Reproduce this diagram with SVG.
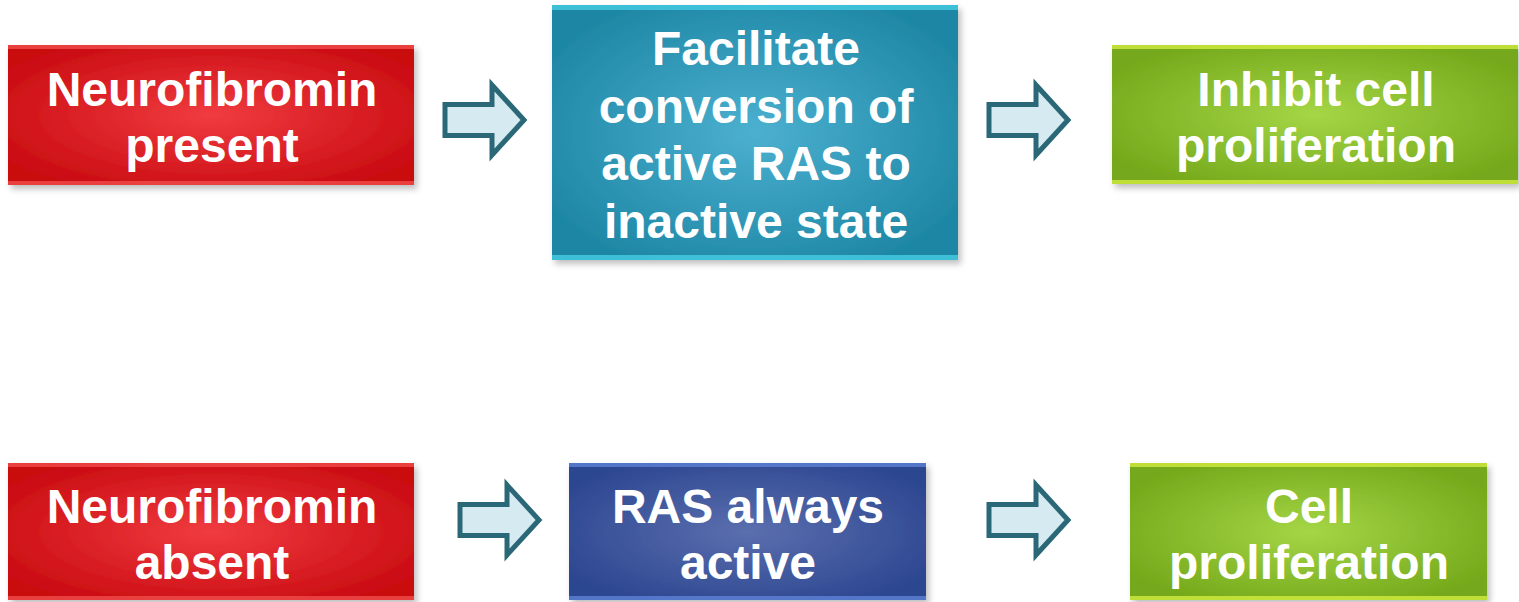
<svg xmlns="http://www.w3.org/2000/svg" width="1519" height="602" viewBox="0 0 1519 602">
<style>
.t{font-family:"Liberation Sans",Arial,sans-serif;font-weight:bold;font-size:48px;fill:#ffffff;text-anchor:middle}
.arr{fill:#d6eaf1;stroke:#2a6878;stroke-width:5;stroke-linejoin:miter}
.hl{opacity:0.75}
</style>
<defs>
<filter id="sh" x="-5%" y="-5%" width="115%" height="120%">
<feDropShadow dx="3" dy="4" stdDeviation="3" flood-color="#000" flood-opacity="0.25"/>
</filter>
<radialGradient id="gRed" cx="0.5" cy="0.5" r="0.6">
<stop offset="0" stop-color="#f03c40"/><stop offset="1" stop-color="#c90b11"/>
</radialGradient>
<radialGradient id="gTeal" cx="0.5" cy="0.5" r="0.6">
<stop offset="0" stop-color="#4cb0d0"/><stop offset="1" stop-color="#1d86a4"/>
</radialGradient>
<radialGradient id="gGreen" cx="0.5" cy="0.5" r="0.6">
<stop offset="0" stop-color="#a4d646"/><stop offset="1" stop-color="#74a81a"/>
</radialGradient>
<radialGradient id="gBlue" cx="0.5" cy="0.5" r="0.6">
<stop offset="0" stop-color="#5b6fae"/><stop offset="1" stop-color="#2c4690"/>
</radialGradient>
<path id="arrow" d="M0,-15.5 H47 V-35 L79,0 L47,35 V15.5 H0 Z"/>
</defs>

<g id="connectors">
<use href="#arrow" class="arr" transform="translate(445,120)"/>
<use href="#arrow" class="arr" transform="translate(989,120)"/>
<use href="#arrow" class="arr" transform="translate(460,520)"/>
<use href="#arrow" class="arr" transform="translate(989,520)"/>
</g>

<g id="node-neurofibromin-present">
<rect x="8" y="45" width="406" height="140" fill="url(#gRed)" filter="url(#sh)"/>
<rect x="8" y="45" width="406" height="4" fill="#f35050" class="hl"/>
<rect x="8" y="181" width="406" height="4" fill="#f35050" class="hl"/>
<text class="t" x="212" y="106">Neurofibromin</text>
<text class="t" x="212" y="162">present</text>
</g>

<g id="node-facilitate">
<rect x="552" y="5" width="406" height="255" fill="url(#gTeal)" filter="url(#sh)"/>
<rect x="552" y="5" width="406" height="5" fill="#48d2ea" class="hl"/>
<rect x="552" y="255" width="406" height="5" fill="#48d2ea" class="hl"/>
<text class="t" x="756" y="65">Facilitate</text>
<text class="t" x="756" y="123">conversion of</text>
<text class="t" x="756" y="180">active RAS to</text>
<text class="t" x="756" y="238">inactive state</text>
</g>

<g id="node-inhibit">
<rect x="1112" y="45" width="406" height="139" fill="url(#gGreen)" filter="url(#sh)"/>
<rect x="1112" y="45" width="406" height="4" fill="#d8f040" class="hl"/>
<rect x="1112" y="180" width="406" height="4" fill="#d8f040" class="hl"/>
<text class="t" x="1316" y="106">Inhibit cell</text>
<text class="t" x="1316" y="162">proliferation</text>
</g>

<g id="node-neurofibromin-absent">
<rect x="8" y="463" width="406" height="137" fill="url(#gRed)" filter="url(#sh)"/>
<rect x="8" y="463" width="406" height="4" fill="#f35050" class="hl"/>
<rect x="8" y="596" width="406" height="4" fill="#f35050" class="hl"/>
<text class="t" x="212" y="523">Neurofibromin</text>
<text class="t" x="212" y="579">absent</text>
</g>

<g id="node-ras-active">
<rect x="569" y="463" width="357" height="137" fill="url(#gBlue)" filter="url(#sh)"/>
<rect x="569" y="463" width="357" height="4" fill="#6286dc" class="hl"/>
<rect x="569" y="596" width="357" height="4" fill="#6286dc" class="hl"/>
<text class="t" x="748" y="523">RAS always</text>
<text class="t" x="748" y="579">active</text>
</g>

<g id="node-cell-proliferation">
<rect x="1130" y="463" width="357" height="137" fill="url(#gGreen)" filter="url(#sh)"/>
<rect x="1130" y="463" width="357" height="4" fill="#d8f040" class="hl"/>
<rect x="1130" y="596" width="357" height="4" fill="#d8f040" class="hl"/>
<text class="t" x="1309" y="523">Cell</text>
<text class="t" x="1309" y="579">proliferation</text>
</g>
</svg>
